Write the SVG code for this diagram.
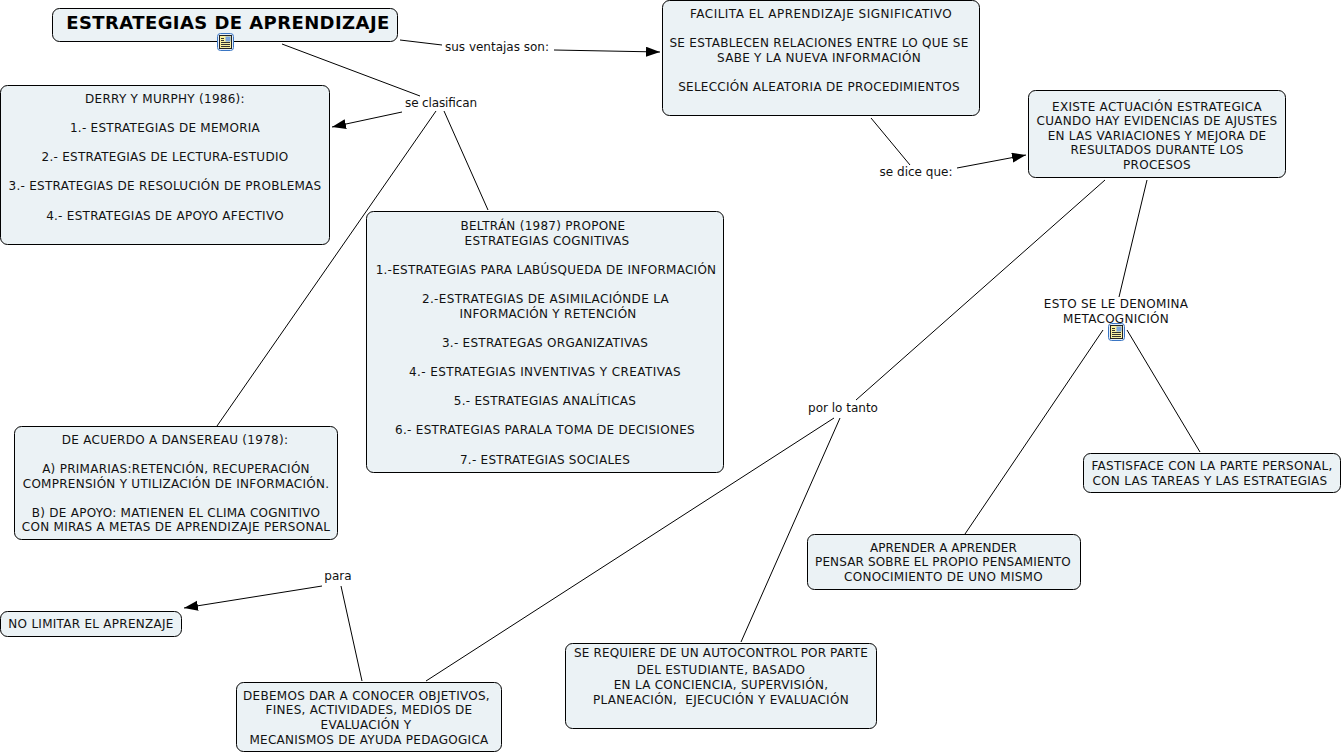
<svg xmlns="http://www.w3.org/2000/svg" width="1344" height="754" viewBox="0 0 1344 754">
<style>
.n{fill:#ebf2f5;stroke:#000;stroke-width:1}
text{font-family:"DejaVu Sans",Verdana,sans-serif;font-size:12px;letter-spacing:.27px;fill:#111;text-anchor:middle;white-space:pre}
text.l{letter-spacing:0}
text.t{font-size:18px;letter-spacing:.42px;font-weight:bold;fill:#000}
.c line{stroke:#000;stroke-width:1}
.a{marker-end:url(#ah)}
</style>
<defs>
<marker id="ah" markerUnits="userSpaceOnUse" markerWidth="16" markerHeight="12" refX="14" refY="5" orient="auto"><path d="M0 0L14 5L0 10Z" fill="#000"/></marker>
<g id="ic"><rect x="0" y="0" width="16" height="17" rx="3" fill="#e3edf9" stroke="#3a76c4"/><rect x="2" y="2" width="12" height="13" fill="#f9f0a0" stroke="#222"/><path d="M3.500 5h3M3.500 7h3M3.500 9h9M3.500 11h9M3.500 13h9" stroke="#333" stroke-width="1"/><rect x="8" y="3" width="5" height="5" fill="#7ba4dc"/></g>
</defs>
<g class="c" id="connectors">
<line x1="400" y1="40" x2="442" y2="45"/><line class="a" x1="554" y1="50" x2="660" y2="52"/>
<line x1="282" y1="44" x2="420" y2="96"/><line class="a" x1="402" y1="112" x2="332" y2="127"/>
<line x1="436" y1="111" x2="217" y2="426"/><line x1="444" y1="111" x2="488" y2="210"/>
<line x1="871" y1="118" x2="910" y2="165"/><line class="a" x1="957" y1="168" x2="1026" y2="155"/>
<line x1="1147" y1="180" x2="1119" y2="297"/><line x1="1105" y1="180" x2="856" y2="400"/>
<line x1="1103" y1="330" x2="965" y2="534"/><line x1="1127" y1="330" x2="1200" y2="452"/>
<line x1="834" y1="418" x2="426" y2="681"/><line x1="840" y1="418" x2="741" y2="642"/>
<line class="a" x1="322" y1="586" x2="184" y2="608"/><line x1="341" y1="586" x2="362" y2="681"/>
</g>
<g id="n1"><rect class="n" x="52.500" y="8.500" width="345" height="33" rx="7"/><text class="t" x="228" y="29">ESTRATEGIAS DE APRENDIZAJE</text><use href="#ic" x="217.500" y="33.500"/></g>
<g id="n2"><rect class="n" x="662.500" y="0.500" width="317" height="115" rx="7"/><text x="821" y="18" textLength="262">FACILITA EL APRENDIZAJE SIGNIFICATIVO</text><text x="819" y="47">SE ESTABLECEN RELACIONES ENTRE LO QUE SE</text><text x="819" y="62">SABE Y LA NUEVA INFORMACIÓN</text><text x="819" y="91">SELECCIÓN ALEATORIA DE PROCEDIMIENTOS</text></g>
<g id="n3"><rect class="n" x="0.500" y="85.500" width="329" height="159" rx="7"/><text x="165" y="103">DERRY Y MURPHY (1986):</text><text x="165" y="132">1.- ESTRATEGIAS DE MEMORIA</text><text x="165" y="161">2.- ESTRATEGIAS DE LECTURA-ESTUDIO</text><text x="165" y="190">3.- ESTRATEGIAS DE RESOLUCIÓN DE PROBLEMAS</text><text x="165" y="220">4.- ESTRATEGIAS DE APOYO AFECTIVO</text></g>
<g id="n4"><rect class="n" x="366.500" y="211.500" width="357" height="261" rx="7"/><text x="543" y="230">BELTRÁN (1987) PROPONE</text><text x="547" y="245">ESTRATEGIAS COGNITIVAS</text><text x="546" y="274">1.-ESTRATEGIAS PARA LABÚSQUEDA DE INFORMACIÓN</text><text x="545.500" y="303" textLength="247">2.-ESTRATEGIAS DE ASIMILACIÓNDE LA</text><text x="548" y="318">INFORMACIÓN Y RETENCIÓN</text><text x="545" y="347">3.- ESTRATEGAS ORGANIZATIVAS</text><text x="545" y="376" textLength="272">4.- ESTRATEGIAS INVENTIVAS Y CREATIVAS</text><text x="545" y="405">5.- ESTRATEGIAS ANALÍTICAS</text><text x="545" y="434" textLength="300">6.- ESTRATEGIAS PARALA TOMA DE DECISIONES</text><text x="545" y="464">7.- ESTRATEGIAS SOCIALES</text></g>
<g id="n5"><rect class="n" x="14.500" y="426.500" width="323" height="113" rx="7"/><text x="175" y="444">DE ACUERDO A DANSEREAU (1978):</text><text x="176" y="473">A) PRIMARIAS:RETENCIÓN, RECUPERACIÓN</text><text x="176" y="488">COMPRENSIÓN Y UTILIZACIÓN DE INFORMACIÓN.</text><text x="176" y="517">B) DE APOYO: MATIENEN EL CLIMA COGNITIVO</text><text x="176" y="531">CON MIRAS A METAS DE APRENDIZAJE PERSONAL</text></g>
<g id="n6"><rect class="n" x="1028.500" y="90.500" width="257" height="87" rx="7"/><text x="1157" y="111">EXISTE ACTUACIÓN ESTRATEGICA</text><text x="1157" y="125">CUANDO HAY EVIDENCIAS DE AJUSTES</text><text x="1157" y="140">EN LAS VARIACIONES Y MEJORA DE</text><text x="1157" y="154">RESULTADOS DURANTE LOS</text><text x="1157" y="169">PROCESOS</text></g>
<g id="n7"><text x="1116" y="308">ESTO SE LE DENOMINA</text><text x="1116" y="323">METACOGNICIÓN</text><use href="#ic" x="1108.500" y="323.500"/></g>
<g id="n8"><rect class="n" x="1083.500" y="453.500" width="257" height="39" rx="7"/><text x="1212" y="470">FASTISFACE CON LA PARTE PERSONAL,</text><text x="1210" y="485">CON LAS TAREAS Y LAS ESTRATEGIAS</text></g>
<g id="n9"><rect class="n" x="807.500" y="534.500" width="273" height="55" rx="7"/><text x="943.500" y="552" textLength="147">APRENDER A APRENDER</text><text x="943" y="566" textLength="256">PENSAR SOBRE EL PROPIO PENSAMIENTO</text><text x="943.500" y="581">CONOCIMIENTO DE UNO MISMO</text></g>
<g id="n10"><rect class="n" x="565.500" y="643.500" width="311" height="85" rx="7"/><text x="721" y="657" textLength="294">SE REQUIERE DE UN AUTOCONTROL POR PARTE</text><text x="721" y="674">DEL ESTUDIANTE, BASADO</text><text x="721" y="689">EN LA CONCIENCIA, SUPERVISIÓN,</text><text x="721" y="704">PLANEACIÓN,  EJECUCIÓN Y EVALUACIÓN</text></g>
<g id="n11"><rect class="n" x="236.500" y="682.500" width="265" height="69" rx="7"/><text x="366.500" y="700">DEBEMOS DAR A CONOCER OBJETIVOS,</text><text x="369" y="714">FINES, ACTIVIDADES, MEDIOS DE</text><text x="366" y="729">EVALUACIÓN Y</text><text x="369" y="744">MECANISMOS DE AYUDA PEDAGOGICA</text></g>
<g id="n12"><rect class="n" x="0.500" y="611.500" width="181" height="25" rx="7"/><text x="91" y="628">NO LIMITAR EL APRENZAJE</text></g>
<g id="l1"><text class="l" x="497" y="51">sus ventajas son:</text></g>
<g id="l2"><text class="l" x="441" y="107" textLength="72">se clasifican</text></g>
<g id="l3"><text class="l" x="916" y="176">se dice que:</text></g>
<g id="l4"><text class="l" x="843" y="412">por lo tanto</text></g>
<g id="l5"><text class="l" x="338" y="580">para</text></g>
</svg>
